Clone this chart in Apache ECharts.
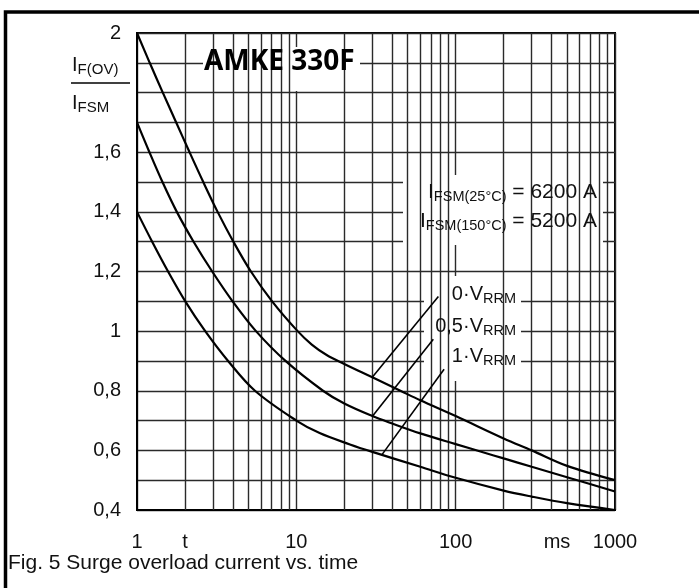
<!DOCTYPE html>
<html>
<head>
<meta charset="utf-8">
<title>Surge overload current vs. time</title>
<script src="https://cdn.jsdelivr.net/npm/echarts@6/dist/echarts.min.js"></script>
<style>
    html, body { margin: 0; padding: 0; background: #fff; }
    #myChart { width: 699px; height: 588px; }
</style>
</head>
<body>
<div id="myChart"></div>
<script>
    // t in ms, value = I_F(OV) / I_FSM
    var tZeroV = [1, 1.202, 1.452, 1.762, 2.138, 2.606, 3.206, 4.027, 5.188, 7.047, 10.19, 12.5, 15.5, 20, 30, 45, 60, 100, 200, 300, 500, 1000];
    var valZeroV = [2.0, 1.9, 1.8, 1.7, 1.6, 1.5, 1.4, 1.3, 1.2, 1.1, 1.0, 0.955, 0.92, 0.89, 0.845, 0.8, 0.768, 0.715, 0.64, 0.6, 0.548, 0.5];

    var tHalfV = [1, 1.197, 1.445, 1.778, 2.265, 2.965, 3.98, 5.58, 8.55, 14.7, 20, 30, 40, 60, 100, 150, 200, 300, 500, 1000];
    var valHalfV = [1.7, 1.6, 1.5, 1.4, 1.3, 1.2, 1.1, 1.0, 0.9, 0.8, 0.757, 0.715, 0.69, 0.657, 0.621, 0.593, 0.573, 0.545, 0.51, 0.462];

    var tFullV = [1, 1.245, 1.567, 2.01, 2.68, 3.73, 5.5, 10, 14, 21.7, 30, 60, 100, 200, 300, 500, 1000];
    var valFullV = [1.4, 1.3, 1.2, 1.1, 1.0, 0.9, 0.8, 0.7, 0.658, 0.62, 0.595, 0.545, 0.508, 0.465, 0.445, 0.423, 0.4];

    // leader lines from the labels to the curves
    var leadZeroV = [[77.9, 1.116], [29.7, 0.843]];
    var leadHalfV = [[72.4, 0.973], [30.2, 0.716]];
    var leadFullV = [[84.6, 0.872], [34.4, 0.585]];

    var minorTimes = [2, 3, 4, 5, 6, 7, 8, 9, 20, 30, 40, 50, 60, 70, 80, 90, 200, 300, 400, 500, 600, 700, 800, 900];

    var font = "'Liberation Sans', Arial, Helvetica, sans-serif";
    var ink = '#111';
    var gridColor = '#2a2a2a';

    function pairs(xs, ys) {
        return xs.map(function (x, i) { return [x, ys[i]]; });
    }

    // parts: list of [text, isSub]
    function subText(x, y, parts, align, mainSize, subSize) {
        var text = parts.map(function (p) {
            return '{' + (p[1] ? 's' : 'n') + '|' + p[0] + '}';
        }).join('');
        return {
            type: 'text', x: x, y: y, z: 6,
            style: {
                text: text,
                align: align, verticalAlign: 'middle',
                rich: {
                    n: { fontSize: mainSize, lineHeight: mainSize, fontFamily: font, fill: ink, color: ink },
                    s: { fontSize: subSize, lineHeight: subSize, padding: [10, 0, 0, 0], fontFamily: font, fill: ink, color: ink }
                }
            }
        };
    }

    function curve(name, xs, ys) {
        return {
            name: name, type: 'line', data: pairs(xs, ys), z: 10,
            smooth: 0.35, symbol: 'none',
            lineStyle: { color: '#000', width: 2.2 }
        };
    }

    function lead(data) {
        return { type: 'line', data: data, z: 10, symbol: 'none', lineStyle: { color: '#000', width: 1.6 } };
    }

    var myChart = echarts.init(document.getElementById('myChart'));
    myChart.setOption({
        animation: false,
        backgroundColor: '#fff',
        grid: {
            left: 137, right: 84, top: 33, bottom: 78,
            show: true, borderColor: '#000', borderWidth: 2, backgroundColor: '#fff'
        },
        xAxis: {
            type: 'log', logBase: 10, min: 1, max: 1000, splitNumber: 3,
            axisLine: { lineStyle: { color: '#000', width: 2 } },
            axisTick: { show: false },
            splitLine: { show: true, lineStyle: { color: gridColor, width: 1.4 } },
            axisLabel: {
                margin: 22, fontSize: 20, fontFamily: font, color: ink,
                formatter: function (v) { return String(Math.round(v)); }
            }
        },
        yAxis: {
            type: 'value', min: 0.4, max: 2, interval: 0.1,
            axisLine: { show: true, lineStyle: { color: '#000', width: 2 } },
            axisTick: { show: false },
            splitLine: { show: true, lineStyle: { color: gridColor, width: 1.4 } },
            axisLabel: {
                margin: 16, fontSize: 20, fontFamily: font, color: ink,
                formatter: function (v) {
                    var k = Math.round(v * 10);
                    if (k % 2 !== 0 || k === 18) return '';
                    return String(k / 10).replace('.', ',');
                }
            }
        },
        series: [
            {
                // minor vertical grid lines of the log axis
                type: 'line', data: [], z: 1, silent: true,
                markLine: {
                    silent: true, symbol: 'none', label: { show: false },
                    lineStyle: { color: gridColor, width: 1.4, type: 'solid' },
                    data: minorTimes.map(function (t) { return { xAxis: t }; })
                }
            },
            curve('0·VRRM', tZeroV, valZeroV),
            curve('0,5·VRRM', tHalfV, valHalfV),
            curve('1·VRRM', tFullV, valFullV),
            lead(leadZeroV),
            lead(leadHalfV),
            lead(leadFullV)
        ],
        graphic: [
            // outer frame (top and left only)
            { type: 'polyline', z: 6, shape: { points: [[5.5, 588], [5.5, 12], [699, 12]] }, style: { stroke: '#000', lineWidth: 3.5, fill: null } },
            // white boxes behind the annotations
            { type: 'rect', z: 5, shape: { x: 203, y: 47, width: 157, height: 44 }, style: { fill: '#fff' } },
            { type: 'rect', z: 5, shape: { x: 403, y: 175, width: 200, height: 70 }, style: { fill: '#fff' } },
            { type: 'rect', z: 5, shape: { x: 424, y: 276, width: 97, height: 105 }, style: { fill: '#fff' } },
            {
                type: 'text', x: 204, y: 62, z: 6,
                style: { text: 'AMKE 330F', fontSize: 28, fontWeight: 'bold', fontFamily: "'Open Sans', 'Noto Sans', sans-serif", fill: '#000', verticalAlign: 'middle' }
            },
            subText(597, 192, [['I'], ['FSM(25°C)', 1], ['\u00a0= 6200 A']], 'right', 21, 14.5),
            subText(597, 221, [['I'], ['FSM(150°C)', 1], ['\u00a0= 5200 A']], 'right', 21, 14.5),
            subText(516, 294, [['0·V'], ['RRM', 1]], 'right', 20, 14.5),
            subText(516, 326, [['0,5·V'], ['RRM', 1]], 'right', 20, 14.5),
            subText(516, 356, [['1·V'], ['RRM', 1]], 'right', 20, 14.5),
            // y axis title as a fraction
            subText(72, 65, [['I'], ['F(OV)', 1]], 'left', 20, 15),
            { type: 'line', z: 6, shape: { x1: 71, y1: 83, x2: 130, y2: 83 }, style: { stroke: '#000', lineWidth: 1.5 } },
            subText(72, 103, [['I'], ['FSM', 1]], 'left', 20, 15),
            // extra x labels
            { type: 'text', x: 185, y: 542, z: 6, style: { text: 't', fontSize: 20, fontFamily: font, fill: ink, align: 'center', verticalAlign: 'middle' } },
            { type: 'text', x: 557, y: 542, z: 6, style: { text: 'ms', fontSize: 20, fontFamily: font, fill: ink, align: 'center', verticalAlign: 'middle' } },
            { type: 'text', x: 8, y: 563, z: 6, style: { text: 'Fig. 5 Surge overload current vs. time', fontSize: 21, fontFamily: font, fill: ink, verticalAlign: 'middle' } }
        ]
    });
</script>
</body>
</html>
